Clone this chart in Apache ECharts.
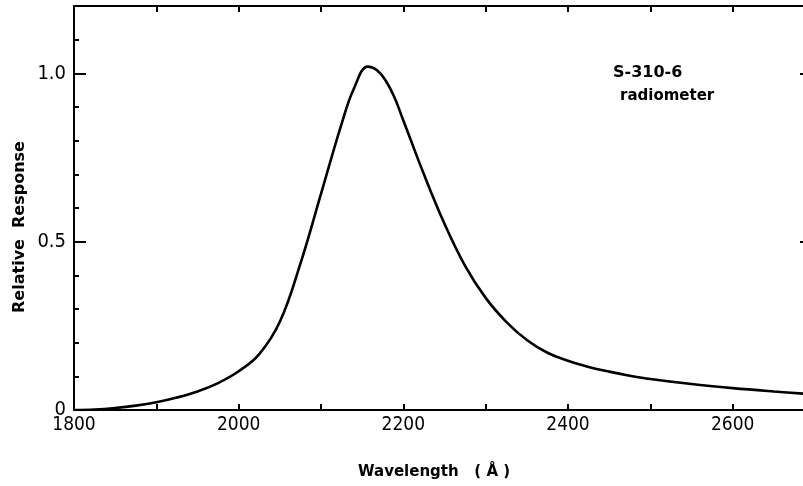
<!DOCTYPE html>
<html>
<head>
<meta charset="utf-8">
<script src="https://cdn.jsdelivr.net/npm/echarts@6/dist/echarts.min.js"></script>
<style>
  html, body { margin: 0; padding: 0; background: #fff; }
  #chart { width: 803px; height: 486px; }
</style>
</head>
<body>
<div id="chart"></div>
<script>
// Spectral response of the S-310-6 radiometer
const wavelengths = [1800, 1825, 1850, 1875, 1900, 1925, 1950, 1975, 2000, 2025, 2050,
  2075, 2100, 2125, 2140, 2157, 2172, 2187, 2200, 2225, 2250, 2275, 2300,
  2325, 2350, 2375, 2400, 2425, 2450, 2475, 2500, 2550, 2600, 2650, 2700];
const response = [0.0, 0.0015, 0.006, 0.013, 0.023, 0.037, 0.055, 0.080, 0.115, 0.166, 0.262,
  0.435, 0.642, 0.85, 0.955, 1.02, 1.0, 0.94, 0.86, 0.70, 0.553, 0.428, 0.333,
  0.262, 0.208, 0.170, 0.146, 0.128, 0.114, 0.102, 0.092, 0.077, 0.065, 0.055, 0.046];

const xTickLabels = [1800, 2000, 2200, 2400, 2600];
const yTickLabels = { 0: '0', 5: '0.5', 10: '1.0' };

const numFont = "'Liberation Sans Narrow', 'DejaVu Sans Condensed', sans-serif";
const ink = '#000';

const chart = echarts.init(document.getElementById('chart'), null, { renderer: 'canvas' });

const baseX = {
  type: 'value', min: 1800, max: 2700, interval: 100,
  splitLine: { show: false },
  axisLine: { show: true, onZero: false, lineStyle: { color: ink, width: 2 } },
  axisTick: { show: true, inside: true, length: 6, lineStyle: { color: ink, width: 2 } }
};

chart.setOption({
  animation: false,
  backgroundColor: '#fff',
  grid: { left: 74, top: 6, width: 741, height: 404, containLabel: false, outerBoundsMode: 'none' },
  xAxis: [
    Object.assign({}, baseX, {
      position: 'bottom',
      axisLabel: {
        color: ink, fontFamily: numFont, fontSize: 19, margin: 6,
        showMaxLabel: false,
        formatter: v => xTickLabels.indexOf(v) >= 0 ? String(v) : ''
      }
    }),
    Object.assign({}, baseX, {
      position: 'top',
      axisLabel: { show: false }
    })
  ],
  yAxis: [
    {
      type: 'value', min: 0, max: 1.2, interval: 0.1, position: 'left',
      splitLine: { show: false },
      axisLine: { show: true, onZero: false, lineStyle: { color: ink, width: 2 } },
      axisTick: { show: true, inside: true, length: 5, lineStyle: { color: ink, width: 2 } },
      axisLabel: {
        color: ink, fontFamily: numFont, fontSize: 20, margin: 8,
        formatter: v => {
          const k = Math.round(v * 10);
          return yTickLabels[k] !== undefined ? yTickLabels[k] : '';
        }
      }
    },
    {
      // longer ticks at the labelled values
      type: 'value', min: 0, max: 1.2, interval: 0.5, position: 'left',
      splitLine: { show: false },
      axisLine: { show: false },
      axisTick: { show: true, inside: true, length: 12, lineStyle: { color: ink, width: 2 } },
      axisLabel: { show: false }
    },
    {
      type: 'value', min: 0, max: 1.2, interval: 0.5, position: 'right',
      splitLine: { show: false },
      axisLine: { show: true, onZero: false, lineStyle: { color: ink, width: 2 } },
      axisTick: { show: true, inside: true, length: 15, lineStyle: { color: ink, width: 2 } },
      axisLabel: { show: false }
    }
  ],
  series: [
    {
      type: 'line',
      xAxisIndex: 0, yAxisIndex: 0,
      data: wavelengths.map((w, i) => [w, response[i]]),
      smooth: 0.4,
      showSymbol: false,
      clip: true,
      lineStyle: { color: ink, width: 2.6 }
    }
  ],
  graphic: [
    {
      type: 'text', x: 20, y: 227, rotation: Math.PI / 2,
      style: {
        text: 'Relative  Response', fill: ink, align: 'center', verticalAlign: 'middle',
        font: "bold 16px 'DejaVu Sans', sans-serif"
      }
    },
    {
      type: 'text', left: 358, top: 465,
      style: { text: 'Wavelength   ( Å )', fill: ink, font: "bold 15px 'DejaVu Sans', sans-serif" }
    },
    {
      type: 'text', left: 613, top: 65,
      style: { text: 'S-310-6', fill: ink, font: "bold 16px 'DejaVu Sans', sans-serif" }
    },
    {
      type: 'text', left: 620, top: 89,
      style: { text: 'radiometer', fill: ink, font: "bold 15px 'DejaVu Sans', sans-serif" }
    }
  ]
});
</script>
</body>
</html>
